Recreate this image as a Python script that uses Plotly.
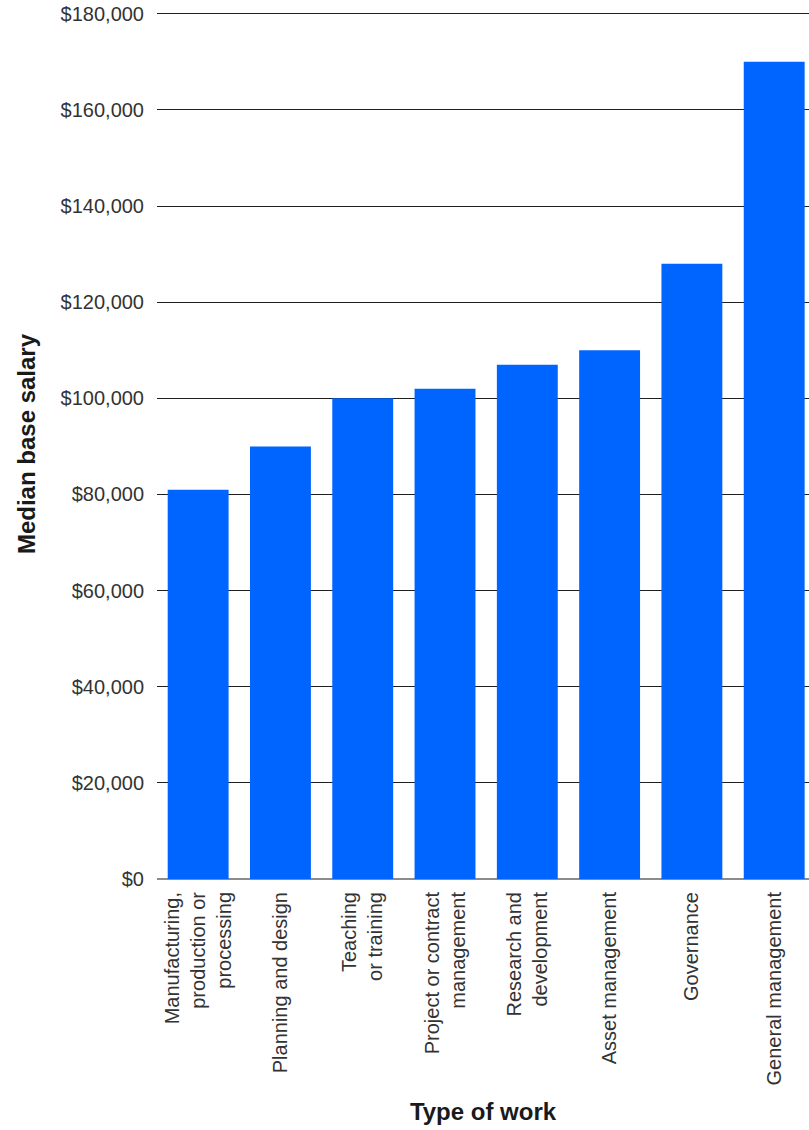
import plotly.graph_objects as go

categories = [
    "Manufacturing,<br>production or<br>processing",
    "Planning and design",
    "Teaching<br>or training",
    "Project or contract<br>management",
    "Research and<br>development",
    "Asset management",
    "Governance",
    "General management",
]
salaries = [81000, 90000, 100000, 102000, 107000, 110000, 128000, 170000]
tick_vals = [0, 20000, 40000, 60000, 80000, 100000, 120000, 140000, 160000, 180000]
tick_text = ["$0", "$20,000", "$40,000", "$60,000", "$80,000", "$100,000",
             "$120,000", "$140,000", "$160,000", "$180,000"]

fig = go.Figure(go.Bar(
    x=list(range(len(categories))),
    y=salaries,
    marker=dict(color="#0064FF", line=dict(width=0)),
    hoverinfo="skip",
))

font_family = "Liberation Sans, Arial, sans-serif"

fig.update_layout(
    width=809, height=1130,
    margin=dict(l=157, r=0, t=9, b=251),
    plot_bgcolor="white", paper_bgcolor="white",
    bargap=0.26,
    showlegend=False,
    font=dict(family=font_family, size=20, color="#333333"),
)

fig.update_xaxes(
    tickmode="array",
    tickvals=list(range(len(categories))),
    ticktext=categories,
    tickangle=-90,
    range=[-0.5, 7.423],
    showgrid=False,
    zeroline=False,
    showline=False,
    ticks="",
    ticklabelstandoff=8,
    tickfont=dict(size=20, color="#333333"),
    title=dict(text="<b>Type of work</b>", font=dict(size=24, color="#1a1a1a"), standoff=18),
)

fig.update_yaxes(
    range=[0, 181000],
    tickmode="array",
    tickvals=tick_vals,
    ticktext=tick_text,
    showgrid=True,
    gridcolor="#1f1f1f",
    gridwidth=1,
    zeroline=True,
    zerolinecolor="#8c8c8c",
    zerolinewidth=1.5,
    ticks="",
    ticklabelstandoff=12,
    tickfont=dict(size=20, color="#333333"),
    title=dict(text="<b>Median base salary</b>", font=dict(size=24, color="#1a1a1a"), standoff=18),
)

fig.write_html("out.html")
